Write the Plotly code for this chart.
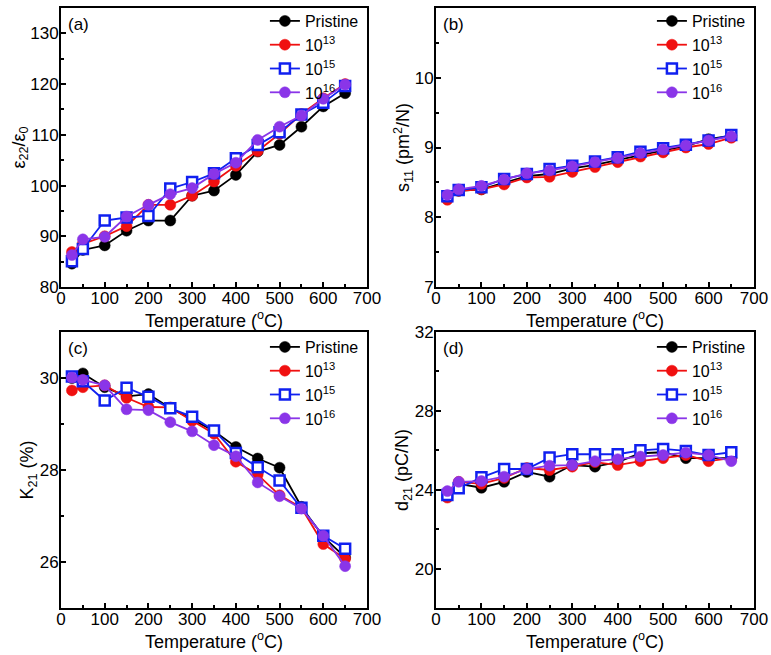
import plotly.graph_objects as go

temperature = [25, 50, 100, 150, 200, 250, 300, 350, 400, 450, 500, 550, 600, 650]
series_names = ["Pristine", "10<sup>13</sup>", "10<sup>15</sup>", "10<sup>16</sup>"]

eps_pristine = [84.6, 87.3, 88.2, 91.1, 93.1, 93.1, 98.0, 99.0, 102.1, 106.7, 108.0, 111.6, 115.6, 118.2]
eps_1e13 = [86.9, 88.5, 90.0, 92.0, 96.2, 96.2, 98.0, 100.8, 103.9, 106.8, 110.2, 114.1, 117.2, 120.0]
eps_1e15 = [85.1, 87.5, 93.1, 93.7, 94.0, 99.4, 100.7, 102.4, 105.4, 108.0, 110.5, 114.0, 116.3, 119.6]
eps_1e16 = [86.3, 89.4, 89.9, 93.9, 96.2, 98.3, 99.5, 102.3, 104.5, 109.0, 111.6, 113.8, 117.1, 119.9]

s11_pristine = [8.28, 8.38, 8.40, 8.50, 8.59, 8.62, 8.70, 8.75, 8.82, 8.90, 8.96, 9.02, 9.12, 9.17]
s11_1e13 = [8.25, 8.38, 8.40, 8.47, 8.57, 8.58, 8.65, 8.72, 8.79, 8.87, 8.93, 9.00, 9.05, 9.14]
s11_1e15 = [8.30, 8.39, 8.43, 8.55, 8.62, 8.69, 8.74, 8.80, 8.86, 8.94, 8.99, 9.04, 9.10, 9.18]
s11_1e16 = [8.32, 8.40, 8.45, 8.54, 8.63, 8.67, 8.73, 8.79, 8.85, 8.92, 8.97, 9.03, 9.10, 9.16]

k21_pristine = [30.0, 30.1, 29.8, 29.6, 29.65, 29.35, 29.1, 28.85, 28.5, 28.25, 28.05, 27.2, 26.55, 26.1]
k21_1e13 = [29.73, 29.8, 29.84, 29.57, 29.37, 29.36, 29.07, 28.79, 28.18, 27.9, 27.45, 27.18, 26.39, 26.07]
k21_1e15 = [30.03, 29.93, 29.51, 29.79, 29.59, 29.34, 29.16, 28.86, 28.37, 28.06, 27.77, 27.18, 26.57, 26.29]
k21_1e16 = [30.01, 29.96, 29.84, 29.32, 29.3, 29.04, 28.84, 28.54, 28.3, 27.73, 27.43, 27.16, 26.57, 25.91]

d21_pristine = [23.7, 24.3, 24.1, 24.4, 24.9, 24.66, 25.25, 25.17, 25.4, 25.85, 25.9, 25.6, 25.6, 25.6]
d21_1e13 = [23.6, 24.4, 24.3, 24.6, 25.1, 25.0, 25.17, 25.4, 25.25, 25.45, 25.6, 25.76, 25.45, 25.6]
d21_1e15 = [23.73, 24.07, 24.63, 25.05, 25.05, 25.63, 25.8, 25.8, 25.8, 26.0, 26.07, 25.97, 25.76, 25.9]
d21_1e16 = [23.93, 24.4, 24.44, 24.66, 25.05, 25.22, 25.25, 25.45, 25.55, 25.68, 25.76, 25.88, 25.76, 25.45]

colors = ["#000000", "#F01010", "#1020F0", "#8A35E8"]
FONT = "Liberation Sans, Arial, sans-serif"

panels = [
    dict(data=[eps_pristine, eps_1e13, eps_1e15, eps_1e16], yrange=[80, 135], dtick=10, minor=5,
         ytitle="ε<sub>22</sub>/ε<sub>0</sub>", label="(a)",
         xdom=[61/771, 367/771], ydom=[1-287/655, 1-8/655], legy=1-4/655),
    dict(data=[s11_pristine, s11_1e13, s11_1e15, s11_1e16], yrange=[7, 11], dtick=1, minor=0.5,
         ytitle="s<sub>11</sub> (pm<sup>2</sup>/N)", label="(b)",
         xdom=[436/771, 754/771], ydom=[1-287/655, 1-8/655], legy=1-4/655),
    dict(data=[k21_pristine, k21_1e13, k21_1e15, k21_1e16], yrange=[25, 31], dtick=2, minor=1,
         ytitle="K<sub>21</sub> (%)", label="(c)",
         xdom=[61/771, 367/771], ydom=[1-608/655, 1-332/655], legy=1-330/655),
    dict(data=[d21_pristine, d21_1e13, d21_1e15, d21_1e16], yrange=[18, 32], dtick=4, minor=2,
         ytitle="d<sub>21</sub> (pC/N)", label="(d)",
         xdom=[436/771, 754/771], ydom=[1-608/655, 1-332/655], legy=1-330/655),
]

fig = go.Figure()
layout = dict(
    width=771, height=655, margin=dict(l=0, r=0, t=0, b=0, autoexpand=False),
    paper_bgcolor="white", plot_bgcolor="white",
    font=dict(family=FONT, size=16, color="black"),
    annotations=[],
)

for i, p in enumerate(panels):
    n = i + 1
    xa = "x" if n == 1 else f"x{n}"
    ya = "y" if n == 1 else f"y{n}"
    leg = "legend" if n == 1 else f"legend{n}"
    for j, (vals, name, col) in enumerate(zip(p["data"], series_names, colors)):
        if j == 2:
            marker = dict(symbol="square", size=10, color="white", line=dict(color=col, width=2.5))
        else:
            marker = dict(symbol="circle", size=11, color=col, line=dict(color=col, width=0.5))
        fig.add_trace(go.Scatter(
            x=temperature, y=vals, name=name, mode="lines+markers",
            line=dict(color=col, width=1.8), marker=marker,
            xaxis=xa, yaxis=ya, legend=leg,
        ))
    axkey_x = "xaxis" if n == 1 else f"xaxis{n}"
    axkey_y = "yaxis" if n == 1 else f"yaxis{n}"
    layout[axkey_x] = dict(
        domain=p["xdom"], anchor=ya, range=[0, 700], dtick=100, tick0=0,
        ticks="inside", ticklen=5, tickwidth=1.5, tickcolor="black",
        minor=dict(dtick=50, ticks="inside", ticklen=3, tickwidth=1.5, tickcolor="black"),
        showline=True, linecolor="black", linewidth=2, mirror=True,
        showgrid=False, zeroline=False, ticklabelstandoff=-5,
        tickfont=dict(size=17, family=FONT),
        title=dict(text="Temperature (<sup>o</sup>C)", font=dict(size=18, family=FONT), standoff=0),
    )
    layout[axkey_y] = dict(
        domain=p["ydom"], anchor=xa, range=p["yrange"], dtick=p["dtick"], tick0=0,
        ticks="inside", ticklen=5, tickwidth=1.5, tickcolor="black",
        minor=dict(dtick=p["minor"], ticks="inside", ticklen=3, tickwidth=1.5, tickcolor="black"),
        showline=True, linecolor="black", linewidth=2, mirror=True,
        showgrid=False, zeroline=False, ticklabelstandoff=-3,
        tickfont=dict(size=17, family=FONT),
        title=dict(text=p["ytitle"], font=dict(size=18, family=FONT), standoff=0),
    )
    layout[leg] = dict(
        x=p["xdom"][1] - 0.004, xanchor="right", y=p["legy"], yanchor="top",
        bgcolor="rgba(0,0,0,0)", font=dict(size=16, family=FONT),
        tracegroupgap=0, itemwidth=30,
    )
    layout["annotations"].append(dict(
        text=p["label"], x=p["xdom"][0] + 0.006, y=p["ydom"][1] - 0.008,
        xref="paper", yref="paper", xanchor="left", yanchor="top", showarrow=False,
        font=dict(size=17, family=FONT),
    ))

fig.update_layout(**layout)
fig.write_html(
    "out.html",
    config={"displayModeBar": False},
    post_script="document.body.style.margin='0';document.body.style.padding='0';",
)
